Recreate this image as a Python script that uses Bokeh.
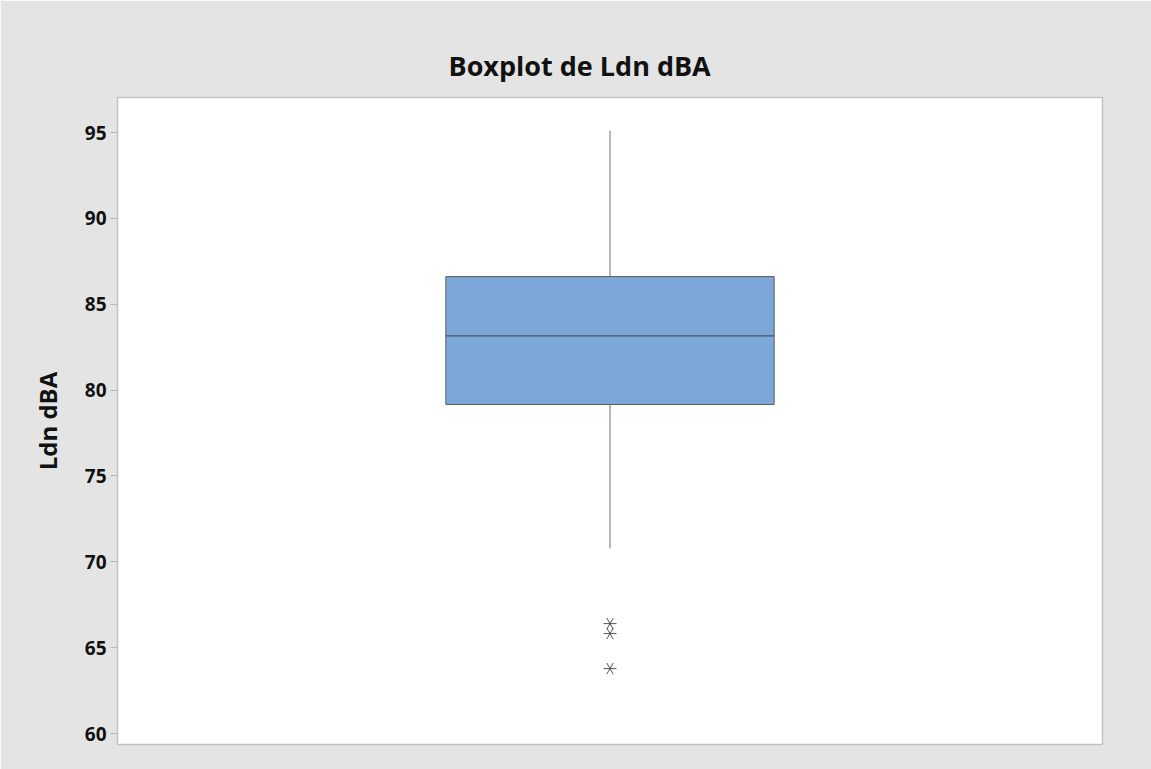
from bokeh.plotting import figure
from bokeh.models import Range1d, FactorRange, ColumnDataSource, Title
from bokeh.transform import dodge
from bokeh.embed import file_html
from bokeh.resources import INLINE

# Summary statistics of the Ldn dBA sample
category = ["Ldn dBA"]
q1 = [79.16]
median = [83.16]
q3 = [86.61]
whisker_low = [70.78]
whisker_high = [95.10]
outliers = [66.40, 65.82, 63.78]
y_ticks = [60, 65, 70, 75, 80, 85, 90, 95]

FONT = "Open Sans"
PANEL = "#e4e4e4"
BOX_W = 1 / 3

p = figure(
    width=1151, height=769,
    x_range=FactorRange(factors=category),
    y_range=Range1d(59.36, 97.04),
    output_backend="svg", toolbar_location=None,
    min_border_left=117, min_border_right=49,
    min_border_top=97, min_border_bottom=25,
)
p.border_fill_color = PANEL
p.background_fill_color = "white"
p.outline_line_color = "#c2c2c2"
p.outline_line_width = 1.5
p.grid.visible = False
p.xaxis.visible = False

ya = p.yaxis[0]
ya.ticker = y_ticks
ya.axis_line_color = None
ya.major_tick_line_color = "#b8b8b8"
ya.major_tick_in = 0
ya.major_tick_out = 7
ya.minor_tick_line_color = None
ya.major_label_text_font = FONT
ya.major_label_text_font_style = "bold"
ya.major_label_text_font_size = "19px"
ya.major_label_text_color = "#111111"
ya.major_label_standoff = 4
ya.axis_label = "Ldn dBA"
ya.axis_label_text_font = FONT
ya.axis_label_text_font_style = "bold"
ya.axis_label_text_font_size = "24px"
ya.axis_label_text_color = "#111111"
ya.axis_label_standoff = 18

box = ColumnDataSource(dict(x=category, q1=q1, med=median, q3=q3,
                            lo=whisker_low, hi=whisker_high))

# whiskers
p.segment(x0="x", y0="q3", x1="x", y1="hi", source=box,
          line_color="#707070", line_width=1)
p.segment(x0="x", y0="lo", x1="x", y1="q1", source=box,
          line_color="#707070", line_width=1)

# interquartile box and median
p.vbar(x="x", width=BOX_W, bottom="q1", top="q3", source=box,
       fill_color="#7ba7d9", line_color="#5c5c5c", line_width=1)
p.segment(x0=dodge("x", -BOX_W / 2, range=p.x_range), y0="med",
          x1=dodge("x", BOX_W / 2, range=p.x_range), y1="med", source=box,
          line_color="#4a5360", line_width=1.2)

# outliers drawn as six-armed asterisks
out = ColumnDataSource(dict(x=category * len(outliers), y=outliers))
for ang in (0.0, 1.0472, -1.0472):
    p.scatter(x="x", y="y", source=out, marker="dash", size=13, angle=ang,
              line_color="#555555", line_width=1)

title = Title(text="Boxplot de Ldn dBA", align="left", offset=331,
              standoff=28, text_font=FONT, text_font_style="bold",
              text_font_size="27px", text_color="#111111")
p.add_layout(title, "above")

open("out.html", "w").write(file_html(p, INLINE))
